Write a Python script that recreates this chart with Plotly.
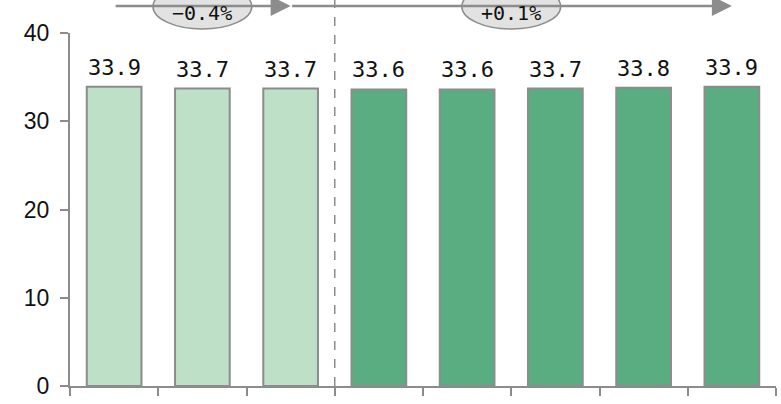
import plotly.graph_objects as go

# Values per period (first three = earlier period, last five = later period)
values = [33.9, 33.7, 33.7, 33.6, 33.6, 33.7, 33.8, 33.9]
period_split = 3
change_labels = ["\u22120.4%", "+0.1%"]
y_ticks = [0, 10, 20, 30, 40]

light_green = "#bde0c6"
dark_green = "#5aad80"
grey = "#8c8c8c"
label_font = "DejaVu Sans Mono"

x = list(range(len(values)))
colors = [light_green if i < period_split else dark_green for i in x]

fig = go.Figure()
fig.add_trace(go.Bar(
    x=x, y=values,
    marker=dict(color=colors, line=dict(color=grey, width=2)),
    width=0.62,
    hoverinfo="skip",
))

# value labels above each bar
for xi, v in zip(x, values):
    fig.add_annotation(
        x=xi, y=v, xref="x", yref="y", text=f"{v:.1f}", showarrow=False,
        yanchor="bottom", yshift=5,
        font=dict(family=label_font, size=22, color="#111111"),
    )

top_px = 33
plot_h = 353
arrow_y = 1 + (top_px - 6) / plot_h

# dashed divider between the two periods
fig.add_shape(
    type="line", xref="x", yref="paper",
    x0=period_split - 0.5, x1=period_split - 0.5, y0=0, y1=1 + top_px / plot_h,
    line=dict(color=grey, width=1.5, dash="dash"),
)

# trend arrows across each period
segments = [(0, period_split - 1), (period_split - 1, len(values) - 1)]
for (a, b), lab in zip(segments, change_labels):
    fig.add_annotation(
        x=b, y=arrow_y, xref="x", yref="paper",
        ax=a, ay=0, axref="x", ayref="pixel",
        showarrow=True, arrowhead=2, arrowsize=1.6, arrowwidth=2.5,
        arrowcolor=grey, text="",
    )
    mid = (a + b) / 2
    fig.add_shape(
        type="circle", xref="x", yref="paper",
        x0=mid - 0.56, x1=mid + 0.56,
        y0=1 + (top_px - 29) / plot_h, y1=1 + (top_px + 16) / plot_h,
        fillcolor="#e2e2e2", line=dict(color=grey, width=1.5),
    )
    fig.add_annotation(
        x=mid, y=1 + top_px / plot_h, xref="x", yref="paper",
        text=lab, showarrow=False, yanchor="top", borderpad=0,
        font=dict(family=label_font, size=20, color="#111111"),
    )

fig.update_layout(
    width=781, height=404,
    margin=dict(l=70, r=5, t=top_px, b=18),
    plot_bgcolor="white", paper_bgcolor="white",
    showlegend=False,
    xaxis=dict(
        range=[-0.5, len(values) - 0.5],
        tickvals=[i - 0.5 for i in range(len(values) + 1)],
        showticklabels=False, ticks="outside", ticklen=8, tickwidth=2,
        tickcolor=grey, showline=True, linecolor=grey, linewidth=2,
        showgrid=False, zeroline=False,
    ),
    yaxis=dict(
        range=[0, 40], tickvals=y_ticks,
        ticks="outside", ticklen=8, tickwidth=2, tickcolor=grey,
        showline=True, linecolor=grey, linewidth=2,
        showgrid=False, zeroline=False, ticklabelstandoff=6,
        tickfont=dict(family="Liberation Sans", size=23, color="#111111"),
    ),
)

fig.write_html("out.html")
